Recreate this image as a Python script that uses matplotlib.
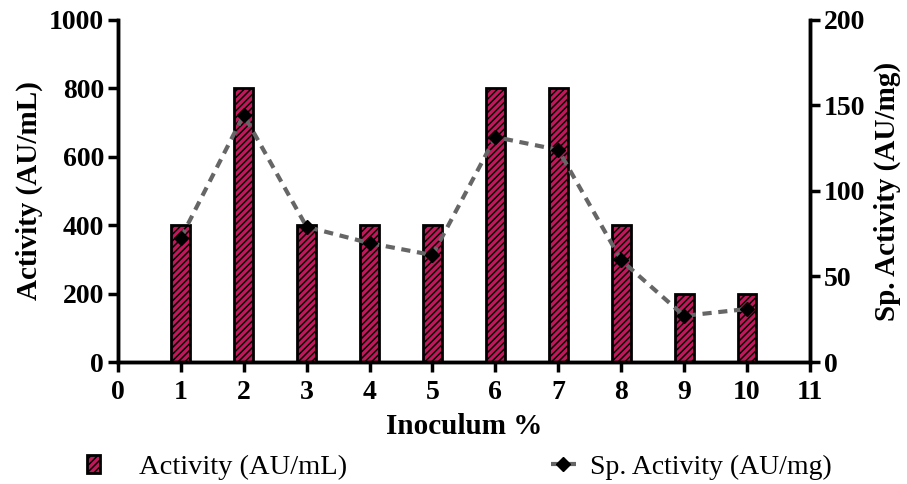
import numpy as np
import matplotlib
matplotlib.use('Agg')
import matplotlib.pyplot as plt

# data
inoculum = [1, 2, 3, 4, 5, 6, 7, 8, 9, 10]
activity = [400, 800, 400, 400, 400, 800, 800, 400, 200, 200]
sp_activity = [72.5, 144.5, 79, 69.5, 62.5, 131.5, 124, 59.5, 27, 31]

plt.rcParams['font.family'] = ['Liberation Serif', 'DejaVu Serif']
plt.rcParams['hatch.linewidth'] = 1.1
plt.rcParams['hatch.color'] = 'black'

fig = plt.figure(figsize=(9.07, 4.84), dpi=100)
ax = fig.add_axes([0.130, 0.252, 0.763, 0.707])
ax2 = ax.twinx()

bars = ax.bar(inoculum, activity, width=0.3, color='#C2185B', edgecolor='black',
              linewidth=2, hatch='/////', label='Activity (AU/mL)', zorder=2)
line, = ax2.plot(inoculum, sp_activity, linestyle=(0, (2.2, 1.6)), color='#666666',
                 linewidth=3, marker='D', markersize=7, markerfacecolor='black',
                 markeredgecolor='black', label='Sp. Activity (AU/mg)', zorder=3)

ax.set_xlim(0, 11)
ax.set_ylim(0, 1000)
ax2.set_ylim(0, 200)
ax.set_xticks(range(0, 12))
ax.set_yticks(range(0, 1001, 200))
ax2.set_yticks(range(0, 201, 50))

for a in (ax, ax2):
    a.spines['top'].set_visible(False)
    for s in ('left', 'right', 'bottom'):
        a.spines[s].set_linewidth(2.5)
    a.tick_params(width=2.5, length=7, labelsize=20, pad=3)
    for lbl in a.get_xticklabels() + a.get_yticklabels():
        lbl.set_fontweight('bold')
ax.tick_params(axis='x', pad=6)

ax.set_xlabel('Inoculum %', fontsize=21, fontweight='bold', labelpad=6)
ax.set_ylabel('Activity (AU/mL)', fontsize=21, fontweight='bold', labelpad=4)
ax2.set_ylabel('Sp. Activity (AU/mg)', fontsize=21, fontweight='bold', labelpad=6)

fig.legend(handles=[bars], loc='center left', bbox_to_anchor=(0.080, 0.035),
           frameon=False, fontsize=20.5, handlelength=0.45, handleheight=0.6,
           handletextpad=1.4, borderpad=0)
fig.legend(handles=[line], loc='center left', bbox_to_anchor=(0.592, 0.035),
           frameon=False, fontsize=20, handlelength=0.9, handletextpad=0.5,
           borderpad=0)

fig.savefig('out.png', dpi=100)
